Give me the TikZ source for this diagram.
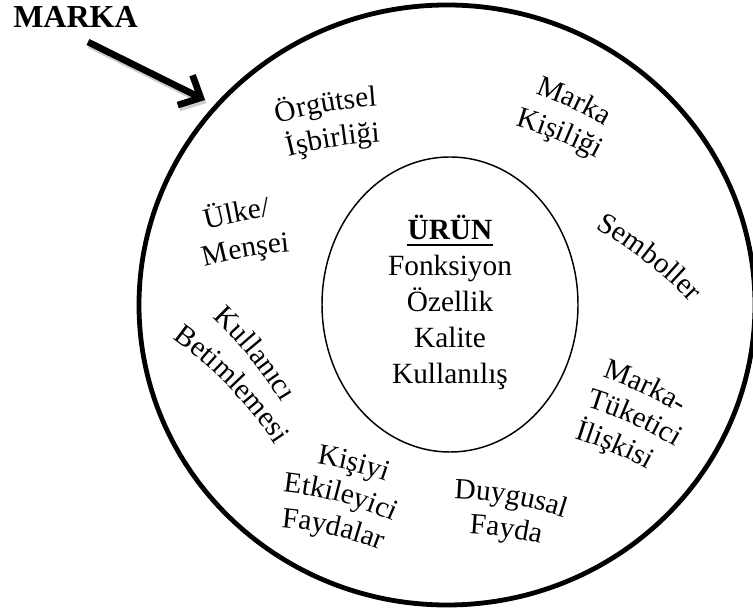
\documentclass[tikz,border=0pt]{standalone}
\usepackage{fontspec}
\setmainfont{Liberation Serif}
\usetikzlibrary{arrows.meta,decorations.text,calc}

\newcommand\lblfont{\fontsize{22}{27}\selectfont}

% one line of arched text: baseline centre (x, y from top), tangent angle, arc radius (px), text
\newcommand\archline[5]{%
  \pgfmathsetmacro\archhalf{150/#4*57.2958}%
  \path[decorate,decoration={text along path,text align=center,
      text/.expanded={|\noexpand\lblfont|#5}}]
    ($(#1,610-#2)+({#3-90}:{#4*0.75pt})+({#3+90+\archhalf}:{#4*0.75pt})$)
    arc[start angle={#3+90+\archhalf}, end angle={#3+90-\archhalf}, radius={#4*0.75pt}];
}

\begin{document}
\begin{tikzpicture}[x=0.75pt,y=0.75pt,
  ring/.style={draw=black},
  pointer/.style={line width=5pt, -{Straight Barb[length=13pt,width=25pt]}},
  centreline/.style={anchor=base, inner sep=0pt, font=\lblfont}]
\useasboundingbox (0,0) rectangle (753,610);

% brand ring and product core
\draw[ring, line width=3.6pt] (447,305) ellipse [x radius={308*0.75pt}, y radius={300*0.75pt}];
\draw[ring, line width=1.1pt] (450,305.5) ellipse [x radius={128*0.75pt}, y radius={147.5*0.75pt}];

% title and pointer
\node[anchor=base west, inner sep=0pt, font=\bfseries\fontsize{24}{28}\selectfont] (marka) at (13,582) {MARKA};
\coordinate (ptail) at (88,568);
\coordinate (ptip) at (205,510);
\draw[pointer, black!20] ([shift={(1.5,-3)}]ptail) -- ([shift={(1.5,-3)}]ptip);
\draw[pointer] (ptail) -- (ptip);

% core contents
\node[centreline, font=\bfseries\lblfont] (urun) at (450,370) {ÜRÜN};
\draw[line width=1.5pt] ([yshift=-3.8pt]urun.base west) -- ([yshift=-3.8pt]urun.base east);
\node[centreline] (fonk) at (450,334) {Fonksiyon};
\node[centreline] (ozel) at (450,298) {Özellik};
\node[centreline] (kal) at (450,262) {Kalite};
\node[centreline] (kull) at (450,226) {Kullanılış};

% ring labels
\archline{327}{112}{10}{500}{Örgütsel}
\archline{334}{147}{9}{500}{İşbirliği}

\archline{571}{108}{-25}{400}{Marka}
\archline{557}{140}{-22}{400}{Kişiliği}

\archline{646}{262}{-38}{400}{Semboller}

\archline{238}{222}{11}{500}{Ülke/}
\archline{247}{257}{10}{500}{Menşei}

\archline{250}{358}{-51}{400}{Kullanıcı}
\archline{229}{387}{-46}{400}{Betimlemesi}

\archline{352}{471}{-14}{350}{Kişiyi}
\archline{339}{502}{-15}{350}{Etkileyici}
\archline{332}{535}{-13}{350}{Faydalar}

\archline{510}{504}{-10}{400}{Duygusal}
\archline{505}{537}{-8}{400}{Fayda}

\archline{642}{393}{-25}{400}{Marka-}
\archline{632}{424}{-24}{400}{Tüketici}
\archline{612}{452}{-23}{400}{İlişkisi}
\end{tikzpicture}
\end{document}
